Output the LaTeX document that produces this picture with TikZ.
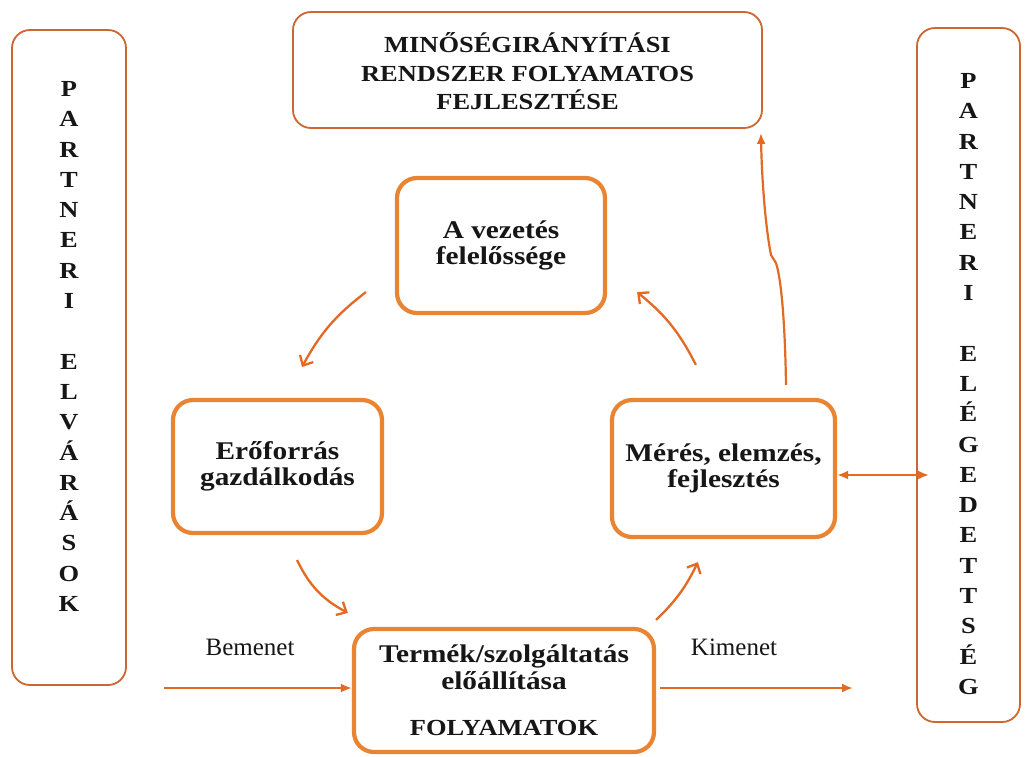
\documentclass[tikz,border=0pt]{standalone}
\usepackage{fontspec}
\setmainfont{Liberation Serif}
\newfontfamily\bfx{Liberation Serif}[FakeStretch=1.15]
\usetikzlibrary{arrows.meta,calc}
\definecolor{outC}{RGB}{205,102,48}
\definecolor{inC}{RGB}{233,133,50}
\definecolor{arC}{RGB}{226,106,35}
\definecolor{txt}{RGB}{22,22,22}
\begin{document}
\begin{tikzpicture}[x=1pt,y=-1pt,
  outbox/.style={draw=outC,line width=1.8pt,rounded corners=18pt,fill=white,inner sep=0pt},
  inbox/.style={draw=inC,line width=4.2pt,rounded corners=20pt,fill=white,inner sep=0pt,align=center,
    font=\bfx\bfseries\fontsize{25.5}{26.5}\selectfont,text=txt},
  coltxt/.style={align=center,inner sep=0pt,text=txt,font=\bfx\bfseries\fontsize{23}{30.3}\selectfont},
  toptxt/.style={align=center,inner sep=0pt,text=txt,font=\bfx\bfseries\fontsize{23}{28.5}\selectfont},
  lbl/.style={inner sep=0pt,text=txt,font=\fontsize{25}{28}\selectfont},
  cyc/.style={draw=arC,line width=2.3pt,-{Straight Barb[length=8pt,width=15pt]}},
  fl/.style={draw=arC,line width=2.2pt,-{Latex[length=11pt,width=9pt]}},
  dbl/.style={draw=arC,line width=2.2pt,{Latex[length=11pt,width=9pt]}-{Latex[length=11pt,width=9pt]}}]
\useasboundingbox[fill=white] (0,0) rectangle (1025,756);

% outer boxes
\node[outbox,minimum width=114pt,minimum height=655pt] (lb) at (69,357.5) {};
\node[coltxt] (lt) at (69,346.5) {P\\A\\R\\T\\N\\E\\R\\I\\[30.3pt]E\\L\\V\\Á\\R\\Á\\S\\O\\K};
\node[outbox,minimum width=103pt,minimum height=694pt] (rb) at (968.5,375) {};
\node[coltxt] (rt) at (968.5,384) {P\\A\\R\\T\\N\\E\\R\\I\\[30.3pt]E\\L\\É\\G\\E\\D\\E\\T\\T\\S\\É\\G};
\node[outbox,minimum width=469pt,minimum height=116pt] (tb) at (527.5,70) {};
\node[toptxt] (tt) at (527.5,71.5) {MINŐSÉGIRÁNYÍTÁSI\\RENDSZER FOLYAMATOS\\FEJLESZTÉSE};

% inner boxes
\node[inbox,minimum width=208pt,minimum height=135pt] (vz) at (501,245.5) {A vezetés\\felelőssége};
\node[inbox,minimum width=209pt,minimum height=133pt] (ef) at (277.5,466.5) {Erőforrás\\gazdálkodás};
\node[inbox,minimum width=223pt,minimum height=137pt] (mr) at (723.5,468.5) {Mérés, elemzés,\\fejlesztés};
\node[inbox,minimum width=300pt,minimum height=123pt] (bt) at (504,690.5) {Termék/szolgáltatás\\előállítása\\[20pt]{\fontsize{23}{26.5}\selectfont FOLYAMATOK}};

% labels
\node[lbl] (bem) at (250,647) {Bemenet};
\node[lbl] (kim) at (734,647) {Kimenet};

% cycle arrows
\draw[cyc] ($(vz.south west)+(-29,-23)$) to[bend right=12] (302,367);
\draw[cyc] (297,560) to[bend right=18] ($(bt.north west)+(-4,-14)$);
\draw[cyc] ($(bt.north east)+(0,-7)$) to[bend right=10] ($(mr.south west)+(88,23)$);
\draw[cyc] ($(mr.north west)+(86,-33)$) to[bend right=12] ($(vz.south east)+(30,-23)$);

% input / output
\coordinate (inS) at (164,688);
\coordinate (outE) at (853,688);
\draw[fl] (inS) -- (bt.west |- inS);
\draw[fl] ($(bt.east |- outE)+(4,0)$) -- (outE);

% double arrow to satisfaction
\draw[dbl] ($(mr.east)+(0,6.5)$) -- ($(rb.west)+(13,100)$);

% improvement arrow up
\draw[fl] ($(mr.north)+(62.5,-13)$) .. controls (785,320) and (781,278) .. (776,263)
  -- (771,255) .. controls (766,230) and (762,185) .. ($(tb.south east)+(-2,4)$);
\end{tikzpicture}
\end{document}
